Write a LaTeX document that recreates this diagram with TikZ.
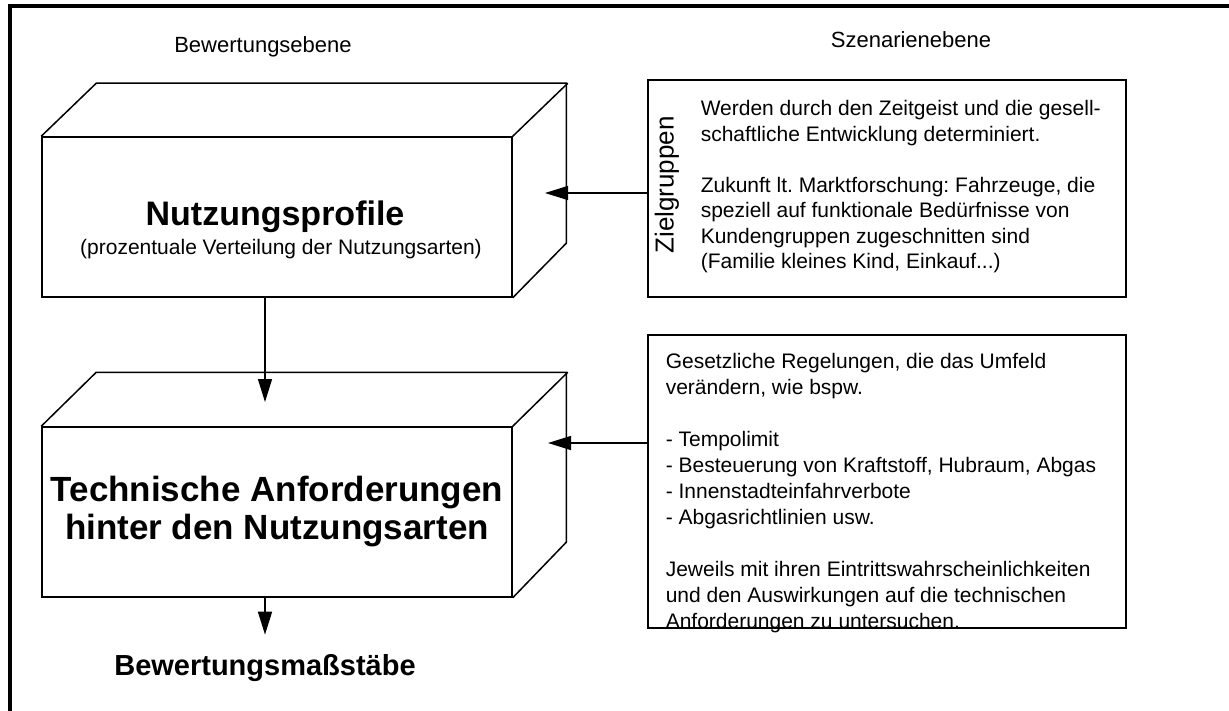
\documentclass[tikz,border=0pt]{standalone}
\usepackage{fontspec}
\setmainfont{Liberation Sans}
\usepackage{xcolor}
\usepackage{tikz}
\usetikzlibrary{positioning,arrows.meta,calc}
\frenchspacing

\begin{document}
\begin{tikzpicture}[x=1pt, y=-1pt, line width=1.5pt,
  front/.style={draw, inner sep=0pt},
  note/.style={draw, inner sep=0pt},
  flow/.style={-{Triangle[length=23pt,width=14pt]}},
  heading/.style={font=\fontsize{22}{26}\selectfont},
  title/.style={font=\fontsize{35}{38}\selectfont\bfseries, align=center},
  body/.style={font=\fontsize{21}{25.5}\selectfont, align=left, anchor=north west, inner sep=0pt}]
\useasboundingbox (0,0) rectangle (1229,711);
\draw[line width=3.5pt] (10,711) -- (10,6) -- (1229,6);
\node[heading] (bewebene) at (263,47) {Bewertungsebene};
\node[heading] (szenebene) at (911,40) {Szenarienebene};
% Nutzungsprofile, front face plus top and side
\node[front, minimum width=470pt, minimum height=160pt] (profil) at (277,217) {};
\draw (profil.north west) -- ++(55,-53) -- ++(470,0) -- ++(0,160) -- (profil.south east);
\draw (profil.north east) -- ++(55,-53);
\node[title, font=\fontsize{34}{38}\selectfont\bfseries] (profiltitel) at (275,217) {Nutzungsprofile};
\node[font=\fontsize{21}{25}\selectfont] (profilsub) at (281,249) {(prozentuale Verteilung der Nutzungsarten)};
% technische Anforderungen
\node[front, minimum width=470pt, minimum height=170pt] (anfo) at (277,512) {};
\draw (anfo.north west) -- ++(55,-54) -- ++(470,0) -- ++(0,170) -- (anfo.south east);
\draw (anfo.north east) -- ++(55,-54);
\node[title] (anfotitel) at (277,512) {Technische Anforderungen\\hinter den Nutzungsarten};
\node[title, font=\fontsize{29}{34}\selectfont\bfseries, inner ysep=19pt] (masstab) at (265,668) {Bewertungsmaßstäbe};
% Szenarien
\node[note, minimum width=478pt, minimum height=217pt] (zielbox) at (887,188.5) {};
\node[font=\fontsize{26}{30}\selectfont, rotate=90] (zielgr) at (667,185) {Zielgruppen};
\node[body] (zieltext) at (700,100) {Werden durch den Zeitgeist und die gesell-\\schaftliche Entwicklung determiniert.\\[25.5pt]Zukunft lt. Marktforschung: Fahrzeuge, die\\speziell auf funktionale Bedürfnisse von\\Kundengruppen zugeschnitten sind\\(Familie kleines Kind, Einkauf...)};
\node[note, minimum width=478pt, minimum height=293pt] (gesetzbox) at (887,481.5) {};
\node[body, font=\fontsize{21}{26}\selectfont] (gesetztext) at (665,353) {Gesetzliche Regelungen, die das Umfeld\\verändern, wie bspw.\\[26pt]- Tempolimit\\- Besteuerung von Kraftstoff, Hubraum, Abgas\\- Innenstadteinfahrverbote\\- Abgasrichtlinien usw.\\[26pt]Jeweils mit ihren Eintrittswahrscheinlichkeiten\\und den Auswirkungen auf die technischen\\Anforderungen zu untersuchen.};
\coordinate (zieltip) at (545,193);
\coordinate (gesetztip) at (548,443);
\coordinate (anfotip) at (265,402);
\draw[flow] (zielbox.west |- zieltip) -- (zieltip);
\draw[flow] (gesetzbox.west |- gesetztip) -- (gesetztip);
\draw[flow] (profil.south -| anfotip) -- (anfotip);
\draw[flow] (anfo.south -| masstab) -- (masstab.north);
\end{tikzpicture}
\end{document}
